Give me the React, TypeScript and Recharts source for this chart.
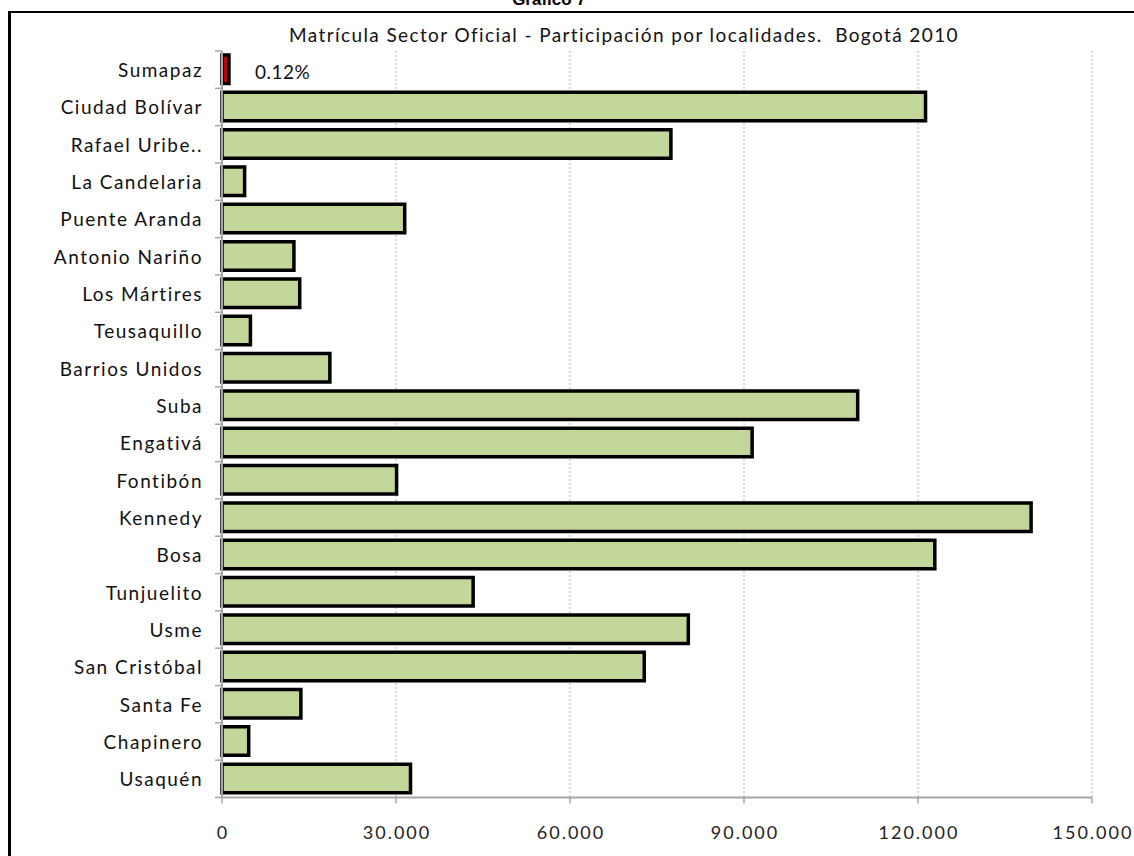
import React from "react";
import { BarChart, Bar, XAxis, YAxis, CartesianGrid, Cell, LabelList } from "recharts";

const categories = [
  "Sumapaz",
  "Ciudad Bolívar",
  "Rafael Uribe..",
  "La Candelaria",
  "Puente Aranda",
  "Antonio Nariño",
  "Los Mártires",
  "Teusaquillo",
  "Barrios Unidos",
  "Suba",
  "Engativá",
  "Fontibón",
  "Kennedy",
  "Bosa",
  "Tunjuelito",
  "Usme",
  "San Cristóbal",
  "Santa Fe",
  "Chapinero",
  "Usaquén",
];

const matricula = [
  1200, 121300, 77400, 3900, 31500, 12400, 13400, 4900, 18600, 109600, 91400, 30100, 139500, 122900,
  43300, 80400, 72800, 13600, 4600, 32500,
];

const shareLabels = ["0.12%", null, null, null, null, null, null, null, null, null, null, null, null, null, null, null, null, null, null, null];

const xTicks = [0, 30000, 60000, 90000, 120000, 150000];

const TITLE = "Matrícula Sector Oficial - Participación por localidades.  Bogotá 2010";
const TOP_TITLE = "Gráfico 7";

const GREEN = "#C4D79B";
const RED = "#C00000";
const AXIS = "#A6A6A6";
const FONT = "Lato, 'Noto Sans', sans-serif";

const W = 1134;
const H = 856;
const PLOT_LEFT = 222;
const PLOT_RIGHT = 1092;
const PLOT_TOP = 51;
const PLOT_BOTTOM = 797.5;
const BAND = (PLOT_BOTTOM - PLOT_TOP) / categories.length;

const data = categories.map((name, i) => ({
  name,
  value: matricula[i],
  share: shareLabels[i],
  fill: name === "Sumapaz" ? RED : GREEN,
}));

const fmt = (v: number) => v.toLocaleString("de-DE");

const XTick = (props: any) => {
  const { x, y, payload } = props;
  return (
    <text x={x + 1} y={y + 35} textAnchor="middle" fontFamily={FONT} fontSize={18} letterSpacing={2} fill="#222">
      {fmt(payload.value)}
    </text>
  );
};

const YTick = (props: any) => {
  const { y, payload, index } = props;
  const last = index === categories.length - 1;
  return (
    <g>
      <line x1={PLOT_LEFT - 7} x2={PLOT_LEFT} y1={y - BAND / 2} y2={y - BAND / 2} stroke={AXIS} strokeWidth={1.5} />
      {last && (
        <line x1={PLOT_LEFT - 7} x2={PLOT_LEFT} y1={y + BAND / 2} y2={y + BAND / 2} stroke={AXIS} strokeWidth={1.5} />
      )}
      <text
        x={PLOT_LEFT - 19}
        y={y}
        textAnchor="end"
        dominantBaseline="central"
        fontFamily={FONT}
        fontSize={19}
        letterSpacing={1.5}
        fill="#111"
      >
        {payload.value}
      </text>
    </g>
  );
};

const ShareLabel = (props: any) => {
  const { x, y, width, height, value } = props;
  if (!value) return null;
  return (
    <text
      x={x + width + 26}
      y={y + height / 2 + 2}
      dominantBaseline="central"
      fontFamily={FONT}
      fontSize={19}
      letterSpacing={0.5}
      fill="#111"
    >
      {value}
    </text>
  );
};

export default function App() {
  return (
    <div
      style={{
        position: "fixed",
        left: 0,
        top: 0,
        width: W,
        height: H,
        overflow: "hidden",
        background: "#fff",
      }}
    >
      <div
        style={{
          position: "absolute",
          left: 8,
          top: 11,
          width: 1400,
          height: 1100,
          borderLeft: "3px solid #000",
          borderTop: "2px solid #000",
          boxSizing: "border-box",
        }}
      />
      <div style={{ position: "absolute", left: 0, top: 0 }}>
        <BarChart
          width={W}
          height={H}
          data={data}
          layout="vertical"
          margin={{ top: PLOT_TOP, right: W - PLOT_RIGHT, bottom: H - PLOT_BOTTOM - 40, left: 0 }}
        >
          <CartesianGrid horizontal={false} vertical stroke="#B4B4B4" strokeDasharray="2 2" />
          <XAxis
            type="number"
            domain={[0, 150000]}
            ticks={xTicks}
            interval={0}
            height={40}
            tickSize={6}
            tickMargin={0}
            axisLine={{ stroke: AXIS, strokeWidth: 2 }}
            tickLine={{ stroke: AXIS, strokeWidth: 1.5 }}
            tick={<XTick />}
          />
          <YAxis
            type="category"
            dataKey="name"
            width={PLOT_LEFT}
            interval={0}
            tickLine={false}
            axisLine={{ stroke: AXIS, strokeWidth: 2 }}
            tick={<YTick />}
          />
          <Bar dataKey="value" barSize={28.5} stroke="#000" strokeWidth={3.5} isAnimationActive={false}>
            {data.map((d, i) => (
              <Cell key={i} fill={d.fill} />
            ))}
            <LabelList dataKey="share" content={<ShareLabel />} />
          </Bar>
        </BarChart>
      </div>
      <svg width={W} height={H} style={{ position: "absolute", left: 0, top: 0, pointerEvents: "none" }}>
        <text x={549} y={4.5} textAnchor="middle" fontFamily="'Liberation Sans', Arial, sans-serif" fontWeight="bold" fontSize={17} fill="#000">
          {TOP_TITLE}
        </text>
        <text
          x={624}
          y={41.5}
          textAnchor="middle"
          fontFamily={FONT}
          fontSize={19}
          letterSpacing={1.4}
          fill="#111"
          xmlSpace="preserve"
          style={{ whiteSpace: "pre" }}
        >
          {TITLE}
        </text>
      </svg>
    </div>
  );
}
